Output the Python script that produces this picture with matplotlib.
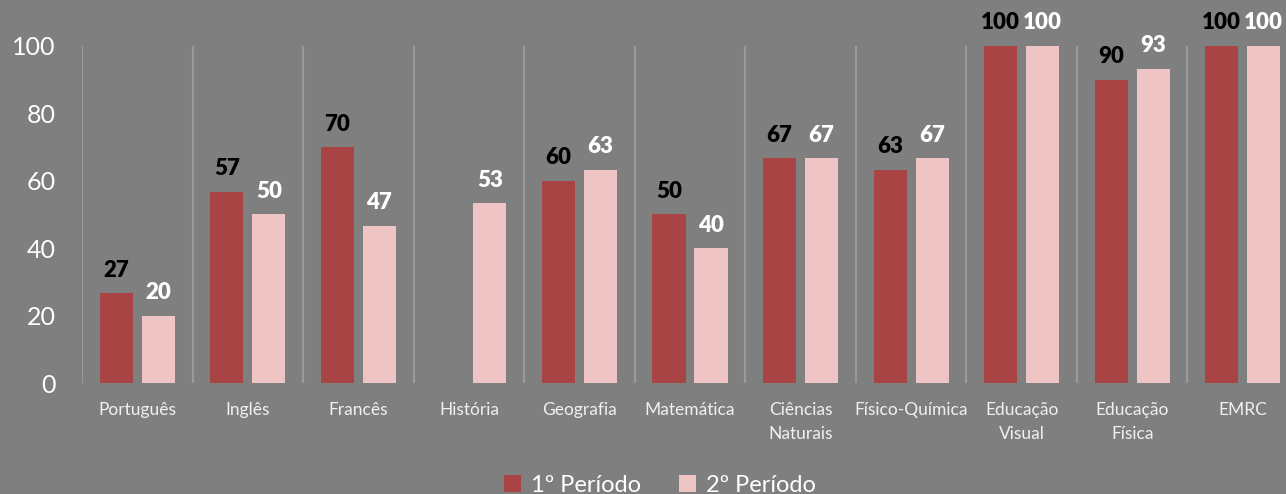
from matplotlib import pyplot as plt
import numpy as np

plt.rcParams['font.family'] = ['Lato', 'DejaVu Sans']

disciplinas = ['Português', 'Inglês', 'Francês', 'História', 'Geografia',
               'Matemática', 'Ciências\nNaturais', 'Físico-Química',
               'Educação\nVisual', 'Educação\nFísica', 'EMRC']
periodo1 = [26.7, 56.7, 70.0, 0.0, 60.0, 50.0, 66.7, 63.3, 100.0, 90.0, 100.0]
periodo2 = [20.0, 50.0, 46.7, 53.3, 63.3, 40.0, 66.7, 66.7, 100.0, 93.3, 100.0]
series_labels = ['1º Período', '2º Período']
yticks = [0, 20, 40, 60, 80, 100]

bg = '#7f7f7f'
cor1 = '#a84444'
cor2 = '#eec4c4'


def label_bars(ax, bars, values, color):
    for b, v in zip(bars, values):
        if v <= 0:
            continue
        ax.annotate('%.0f' % v, (b.get_x() + b.get_width() / 2, v),
                    xytext=(0, 9), textcoords='offset points',
                    ha='center', va='bottom', fontsize=16,
                    fontweight='heavy', color=color)


fig = plt.figure(figsize=(12.86, 4.94), dpi=100, facecolor=bg)
# the plot area runs past the right edge, as in the original
ax = fig.add_axes([82 / 1286, 111 / 494, 1216 / 1286, 337 / 494])
ax.set_facecolor(bg)

x = np.arange(len(disciplinas))
w = 0.30
b1 = ax.bar(x - 0.19, periodo1, w, color=cor1, label=series_labels[0])
b2 = ax.bar(x + 0.19, periodo2, w, color=cor2, label=series_labels[1])
label_bars(ax, b1, periodo1, 'black')
label_bars(ax, b2, periodo2, 'white')

ax.set_xlim(-0.5, len(disciplinas) - 0.5)
ax.set_ylim(0, 100)
ax.set_yticks(yticks)
ax.set_xticks(x)
ax.set_xticklabels(disciplinas, fontsize=12.5, color='#f0f0f0', linespacing=1.6)
ax.tick_params(axis='y', labelsize=18, colors='white', length=0, pad=19)
ax.tick_params(axis='x', length=0, pad=14)

# vertical separators between categories
for xv in np.arange(-0.5, len(disciplinas), 1.0):
    ax.axvline(xv, color='#9a9a9a', lw=1.5, zorder=0)

for s in ax.spines.values():
    s.set_visible(False)

leg = fig.legend(loc='center', bbox_to_anchor=(0.513, 0.018), ncol=2,
                 frameon=False, fontsize=17, handlelength=0.75,
                 handleheight=0.75, handletextpad=0.4, columnspacing=1.6)
for t in leg.get_texts():
    t.set_color('white')

fig.savefig('out.png', facecolor=bg)
